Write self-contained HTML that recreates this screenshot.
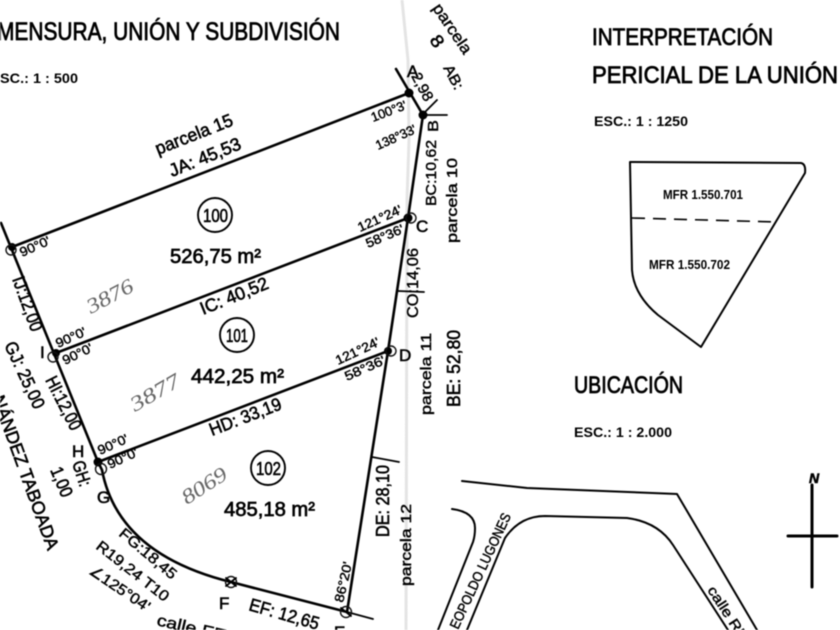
<!DOCTYPE html>
<html><head><meta charset="utf-8"><style>
html,body{margin:0;padding:0;background:#fff;width:840px;height:630px;overflow:hidden}
svg{display:block;filter:blur(.45px)}
text{font-family:"Liberation Sans",sans-serif;fill:#000;stroke:#000;stroke-width:.6}
.h{font-size:25px;stroke-width:.8}.m{font-size:20px;stroke-width:.7}.s{font-size:18px}.a{font-size:13px;stroke-width:.45}.e{font-size:14px;font-weight:bold;stroke:none}
.l{font-size:17px}.f{font-size:12.5px;font-weight:bold;stroke:none}
.w{font-family:"Liberation Serif",serif;font-style:italic;font-size:21px;fill:#666;stroke:none}
.ln{fill:none;stroke:#000;stroke-width:2.6;stroke-linecap:round;stroke-linejoin:round}
.t{fill:none;stroke:#000;stroke-width:1.8;stroke-linecap:round}
.r{fill:none;stroke:#111;stroke-width:1.4}
</style></head><body>
<svg width="840" height="630" viewBox="0 0 840 630" xmlns="http://www.w3.org/2000/svg">
<path d="M402 0L408 60L409 140L407 200L406 630" fill="none" stroke="#e4e4e4" stroke-width="3"/>
<path class="ln" d="M12 247L409 93"/>
<path class="ln" d="M56 353L408 218"/>
<path class="ln" d="M98 462L388 351"/>
<path class="ln" d="M1 223L98 462L102 470Q118 554 231 582L347 612"/>
<path class="t" d="M347 612L373 619"/>
<path class="ln" d="M396 69L423 115L408 218L388 351L347 612"/>
<path class="t" d="M423 115L447 115M422 115L437 100M372 457L399 462M398 291L424 292"/>
<g fill="#000"><circle cx="12" cy="247" r="4"/><circle cx="409" cy="93" r="4.5"/><circle cx="423" cy="115" r="4.5"/><circle cx="408" cy="218" r="4.5"/><circle cx="56" cy="353" r="4"/><circle cx="388" cy="351" r="4"/><circle cx="98" cy="462" r="4.5"/></g>
<g class="r"><circle cx="11" cy="250" r="5"/><circle cx="53" cy="357" r="5"/><circle cx="411" cy="218" r="5"/><circle cx="391" cy="351" r="5"/><circle cx="101" cy="469" r="5.5"/><circle cx="231" cy="582" r="5.5"/><circle cx="346" cy="612" r="5.5"/></g>
<path class="t" d="M226 578L236 586M226 586L236 578M341 608L351 616"/>
<circle cx="215" cy="215" r="17" class="ln" style="stroke-width:1.9"/>
<circle cx="237" cy="335" r="17" class="ln" style="stroke-width:1.9"/>
<circle cx="268" cy="468" r="17" class="ln" style="stroke-width:1.9"/>

<text class="h" x="-3" y="40" textLength="343" lengthAdjust="spacingAndGlyphs">MENSURA, UNIÓN Y SUBDIVISIÓN</text>
<text class="e" x="0" y="83" textLength="78" lengthAdjust="spacingAndGlyphs">SC.:  1 : 500</text>
<text class="s" transform="translate(158 155) rotate(-21.5)" textLength="82" lengthAdjust="spacingAndGlyphs">parcela 15</text>
<text class="s" transform="translate(172 177) rotate(-22)" textLength="76" lengthAdjust="spacingAndGlyphs">JA: 45,53</text>
<text class="s" x="203" y="222" textLength="25" lengthAdjust="spacingAndGlyphs">100</text>
<text class="s" x="226" y="342" textLength="22" lengthAdjust="spacingAndGlyphs">101</text>
<text class="s" x="256" y="475" textLength="25" lengthAdjust="spacingAndGlyphs">102</text>
<text class="m" x="170" y="263" textLength="91" lengthAdjust="spacingAndGlyphs">526,75 m²</text>
<text class="m" x="191" y="383" textLength="93" lengthAdjust="spacingAndGlyphs">442,25 m²</text>
<text class="m" x="224" y="516" textLength="91" lengthAdjust="spacingAndGlyphs">485,18 m²</text>
<text class="a" transform="translate(22 257) rotate(-24)" textLength="32" lengthAdjust="spacingAndGlyphs">90°0'</text>
<text class="a" transform="translate(373 122) rotate(-21)" textLength="37" lengthAdjust="spacingAndGlyphs">100°3'</text>
<text class="a" transform="translate(378 150) rotate(-24)" textLength="43" lengthAdjust="spacingAndGlyphs">138°33'</text>
<text class="a" transform="translate(360 232) rotate(-24)" textLength="47" lengthAdjust="spacingAndGlyphs">121°24'</text>
<text class="a" transform="translate(368 248) rotate(-23)" textLength="40" lengthAdjust="spacingAndGlyphs">58°36'</text>
<text class="s" transform="translate(203 315) rotate(-22)" textLength="72" lengthAdjust="spacingAndGlyphs">IC: 40,52</text>
<text class="s" transform="translate(212 436) rotate(-21)" textLength="76" lengthAdjust="spacingAndGlyphs">HD: 33,19</text>
<text class="a" transform="translate(58 348) rotate(-24)" textLength="32" lengthAdjust="spacingAndGlyphs">90°0'</text>
<text class="a" transform="translate(65 365) rotate(-26)" textLength="32" lengthAdjust="spacingAndGlyphs">90°0'</text>
<text class="a" transform="translate(100 455) rotate(-24)" textLength="32" lengthAdjust="spacingAndGlyphs">90°0'</text>
<text class="a" transform="translate(110 469) rotate(-25)" textLength="32" lengthAdjust="spacingAndGlyphs">90°0'</text>
<text class="a" transform="translate(338 365) rotate(-25)" textLength="47" lengthAdjust="spacingAndGlyphs">121°24'</text>
<text class="a" transform="translate(347 381) rotate(-24)" textLength="43" lengthAdjust="spacingAndGlyphs">58°36'</text>
<text class="a" transform="translate(343 603) rotate(-77)" textLength="41" lengthAdjust="spacingAndGlyphs">86°20'</text>

<text class="w" transform="translate(91 314) rotate(-28)" textLength="50" lengthAdjust="spacingAndGlyphs">3876</text>
<text class="w" transform="translate(135 412) rotate(-30)" textLength="54" lengthAdjust="spacingAndGlyphs">3877</text>
<text class="w" transform="translate(187 505) rotate(-33)" textLength="50" lengthAdjust="spacingAndGlyphs">8069</text>

<text class="s" transform="translate(12 279) rotate(70)" textLength="57" lengthAdjust="spacingAndGlyphs">IJ:12,00</text>
<text class="s" transform="translate(45 380) rotate(63)" textLength="58" lengthAdjust="spacingAndGlyphs">HI:12,00</text>
<text class="s" transform="translate(4 345) rotate(65)" textLength="72" lengthAdjust="spacingAndGlyphs">GJ: 25,00</text>
<text class="s" transform="translate(-8 398) rotate(70)" textLength="163" lengthAdjust="spacingAndGlyphs">NÁNDEZ TABOADA</text>
<text class="s" transform="translate(72 463) rotate(72)" textLength="26" lengthAdjust="spacingAndGlyphs">GH:</text>
<text class="s" transform="translate(50 470) rotate(67)" textLength="31" lengthAdjust="spacingAndGlyphs">1,00</text>
<text class="l" x="72" y="457">H</text>
<text class="l" x="40" y="358">I</text>
<text class="l" x="97" y="503">G</text>
<text class="l" x="219" y="609">F</text>
<text class="l" x="334" y="638">E</text>
<text class="l" x="399" y="361">D</text>
<text class="l" x="416" y="232">C</text>
<text class="l" x="407" y="77">A</text>
<text class="a" style="font-size:15px" transform="translate(438 132) rotate(-90)" textLength="12" lengthAdjust="spacingAndGlyphs">B</text>
<text class="a" style="font-size:15px" transform="translate(443 68) rotate(62)" textLength="26" lengthAdjust="spacingAndGlyphs">AB:</text>
<text class="a" style="font-size:15px" transform="translate(411 76) rotate(62)" textLength="30" lengthAdjust="spacingAndGlyphs">2,98</text>
<text class="a" style="font-size:16px" transform="translate(432 8) rotate(56)" textLength="57" lengthAdjust="spacingAndGlyphs">parcela</text>
<text class="s" transform="translate(429 40) rotate(56)" textLength="11" lengthAdjust="spacingAndGlyphs">8</text>
<text class="a" style="font-size:15px" transform="translate(436 206) rotate(-90)" textLength="66" lengthAdjust="spacingAndGlyphs">BC:10,62</text>
<text class="a" style="font-size:15px" transform="translate(457 243) rotate(-90)" textLength="85" lengthAdjust="spacingAndGlyphs">parcela 10</text>
<text class="a" style="font-size:16px" transform="translate(418 318) rotate(-90)" textLength="70" lengthAdjust="spacingAndGlyphs">CO:14,06</text>
<text class="a" style="font-size:15px" transform="translate(431 415) rotate(-90)" textLength="82" lengthAdjust="spacingAndGlyphs">parcela 11</text>
<text class="s" transform="translate(460 407) rotate(-90)" textLength="77" lengthAdjust="spacingAndGlyphs">BE: 52,80</text>
<text class="s" transform="translate(389 537) rotate(-90)" textLength="72" lengthAdjust="spacingAndGlyphs">DE: 28,10</text>
<text class="a" style="font-size:15px" transform="translate(411 586) rotate(-90)" textLength="82" lengthAdjust="spacingAndGlyphs">parcela 12</text>
<text class="a" style="font-size:15px" transform="translate(118 535) rotate(40)" textLength="70" lengthAdjust="spacingAndGlyphs">FG:18,45</text>
<text class="a" style="font-size:15px" transform="translate(95 548) rotate(38)" textLength="88" lengthAdjust="spacingAndGlyphs">R19,24 T10</text>
<text class="a" style="font-size:15px" transform="translate(88 573) rotate(34)" textLength="70" lengthAdjust="spacingAndGlyphs">∠125°04'</text>
<text class="s" transform="translate(248 610) rotate(16)" textLength="72" lengthAdjust="spacingAndGlyphs">EF: 12,65</text>
<text class="a" style="font-size:16px" transform="translate(156 625) rotate(13)" textLength="85" lengthAdjust="spacingAndGlyphs">calle FER</text>

<text class="h" style="font-size:24px" x="592" y="45" textLength="181" lengthAdjust="spacingAndGlyphs">INTERPRETACIÓN</text>
<text class="h" style="font-size:24px" x="592" y="83" textLength="246" lengthAdjust="spacingAndGlyphs">PERICIAL DE LA UNIÓN</text>
<text class="e" x="594" y="126" textLength="94" lengthAdjust="spacingAndGlyphs">ESC.:  1 : 1250</text>
<path class="ln" style="stroke-width:2" d="M630 162L801 163Q806 164 805 173L701 347L658 315Q634 295 632 270Z"/>
<path d="M632 218L777 222" stroke="#000" stroke-width="1.6" stroke-dasharray="13 8" fill="none"/>
<text class="f" x="663" y="199" textLength="80" lengthAdjust="spacingAndGlyphs">MFR 1.550.701</text>
<text class="f" x="649" y="269" textLength="81" lengthAdjust="spacingAndGlyphs">MFR 1.550.702</text>
<text class="h" style="font-size:24px" x="574" y="393" textLength="109" lengthAdjust="spacingAndGlyphs">UBICACIÓN</text>
<text class="e" x="574" y="437" textLength="98" lengthAdjust="spacingAndGlyphs">ESC.:  1 : 2.000</text>
<path class="ln" style="stroke-width:2" d="M462 481L527 488L677 494L757 630"/>
<path class="ln" style="stroke-width:2" d="M467 630L505 538Q520 516 545 516L627 518Q658 522 673 545L728 630"/>
<path class="ln" style="stroke-width:2" d="M452 509Q475 512 475 528Q475 536 473 542L438 630"/>
<text class="a" style="font-size:14px" transform="translate(458 630) rotate(-65)" textLength="126" lengthAdjust="spacingAndGlyphs">EOPOLDO LUGONES</text>
<text class="a" style="font-size:14px" transform="translate(707 590) rotate(57)" textLength="62" lengthAdjust="spacingAndGlyphs">calle RE</text>
<path d="M812 485V587M788 536H837" stroke="#000" stroke-width="3" fill="none" stroke-linecap="round"/>
<text x="809" y="483" style="font-size:14px;font-weight:bold;font-style:italic">N</text>
</svg>
</body></html>
